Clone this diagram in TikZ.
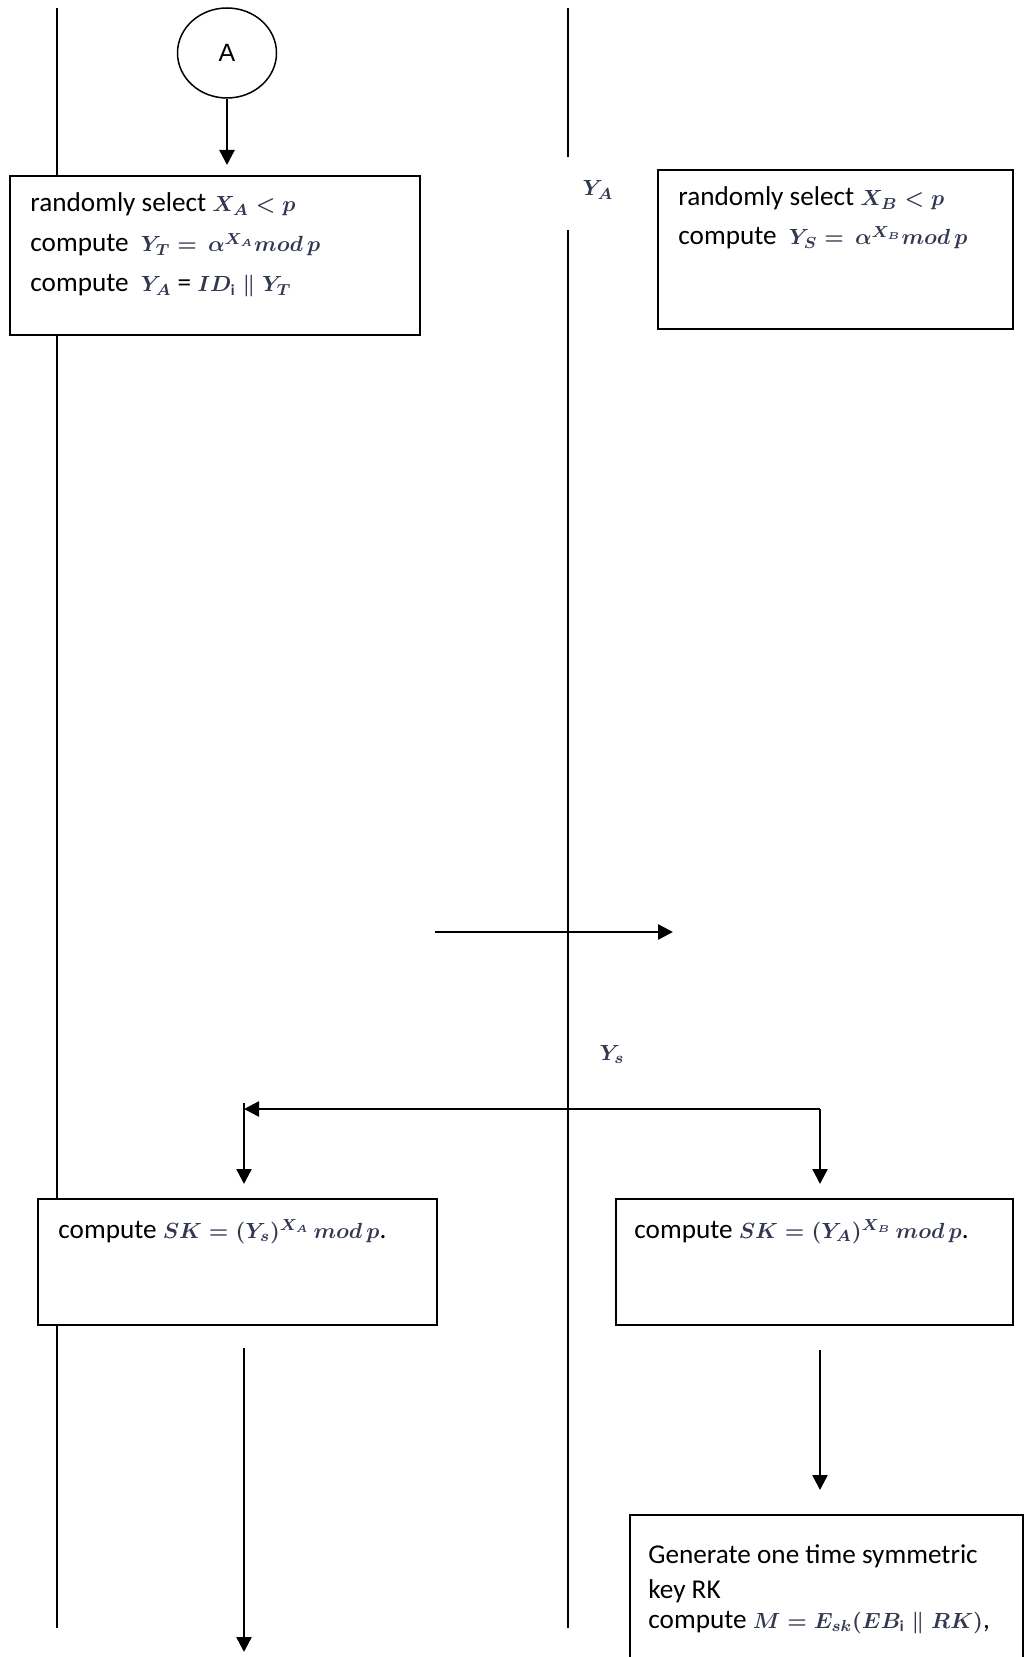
\documentclass[tikz,border=0pt]{standalone}
\usepackage{fontspec}
\setmainfont{Carlito}
\setsansfont{Liberation Sans}
\usetikzlibrary{arrows.meta,shapes.geometric}
\definecolor{mathink}{rgb}{0.2,0.22,0.32}
% formula set a little smaller, in bold math italic
\newcommand\eq[1]{{\color{mathink}\fontsize{11}{14}\selectfont\mathversion{bold}$#1$}}

\begin{document}
\begin{tikzpicture}[x=0.5pt,y=-0.5pt,
  lane/.style={line width=1pt},
  link/.style={line width=1.2pt,-{Triangle[length=7.5pt,width=7.5pt]}},
  box/.style={draw,line width=1pt,fill=white,anchor=north west,inner sep=0pt},
  txt/.style={anchor=base west,inner sep=0pt,font=\fontsize{13.6}{16}\selectfont},
  lbl/.style={anchor=base,inner sep=0pt}
]
\useasboundingbox (0,0) rectangle (1029,1657);
\begin{scope}
\clip (0,0) rectangle (1029,1657);

% lifelines
\coordinate (Ltop) at (57,8);
\coordinate (Lbot) at (57,1628);
\coordinate (Mtop) at (568,8);
\coordinate (Mgap) at (568,157);
\coordinate (Mres) at (568,230);
\coordinate (Mbot) at (568,1628);
\draw[lane] (Ltop) -- (Lbot);
\draw[lane] (Mtop) -- (Mgap);
\draw[lane] (Mres) -- (Mbot);

% start connector
\node[draw,ellipse,line width=0.75pt,minimum width=49.5pt,minimum height=45pt,
      inner sep=0pt,font=\sffamily\fontsize{12.5}{14}\selectfont] (cA) at (227,53) {A};

% boxes
\node[box,minimum width=205pt,minimum height=79.5pt] (b1) at (9,175) {};
\node[box,minimum width=177.5pt,minimum height=79.5pt] (b2) at (657,169) {};
\node[box,minimum width=199.5pt,minimum height=63pt] (skl) at (37,1198) {};
\node[box,minimum width=198.5pt,minimum height=63pt] (skr) at (615,1198) {};
\node[box,minimum width=196.5pt,minimum height=95pt] (gen) at (629,1514) {};

\draw[link,shorten >=5pt] (cA.south) -- (cA.south |- b1.north);

% box texts
\node[txt] (t11) at (30,212) {randomly select \eq{X_A < p}};
\node[txt] (t12) at (30,252) {compute\ \ \eq{Y_T = \,\alpha^{X_A} mod\, p}};
\node[txt] (t13) at (30,292) {compute\ \ \eq{Y_A} = \eq{ID_{\mathrm{i}} \parallel Y_T}};
\node[txt] (t21) at (678,206) {randomly select \eq{X_B < p}};
\node[txt] (t22) at (678,245) {compute\ \ \eq{Y_S = \,\alpha^{X_B} mod\, p}};
\node[txt] (t31) at (58,1238) {compute \eq{SK = (Y_s)^{X_A}\, mod\, p}.};
\node[txt] (t41) at (634,1238) {compute \eq{SK = (Y_A)^{X_B}\, mod\, p}.};
\node[txt] (t51) at (648,1563) {Generate one time symmetric};
\node[txt] (t52) at (648,1598) {key RK};
\node[txt] (t53) at (648,1628) {compute \eq{M = E_{sk}(EB_{\mathrm{i}} \parallel RK)},};

% message labels
\node[lbl] (ya) at (598,196) {\eq{Y_A}};
\node[lbl] (ys) at (612,1060) {\eq{Y_s}};

% message from A to B
\coordinate (ma) at (435,932);
\coordinate (mb) at (673,932);
\draw[link] (ma) -- (mb);

% reply split to both sides
\coordinate (jl) at (244,1109);
\coordinate (jr) at (820,1109);
\coordinate (jlt) at (244,1103);
\draw[link] (jr) -- (jl);
\draw[link,shorten >=7pt] (jlt) -- (jlt |- skl.north);
\draw[link,shorten >=7pt] (jr) -- (jr |- skr.north);

% continuing flows
\coordinate (fl) at (244,1652);
\coordinate (fr) at (820,1490);
\draw[link,shorten <=11pt] (skl.south -| fl) -- (fl);
\draw[link,shorten <=12pt] (skr.south -| fr) -- (fr);
\end{scope}
\end{tikzpicture}
\end{document}
